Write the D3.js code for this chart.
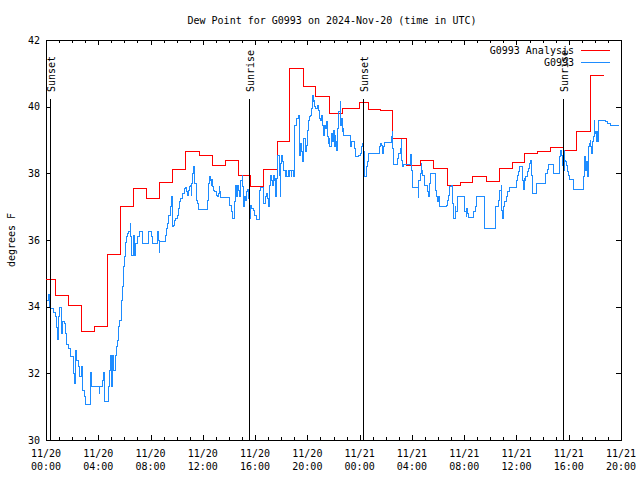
<!DOCTYPE html>
<html><head><meta charset="utf-8">
<script src="https://cdn.jsdelivr.net/npm/d3@7"></script>
<style>
html,body{margin:0;padding:0;background:#fff;}
text{font-family:"DejaVu Sans Mono",monospace;font-size:10px;fill:#000;}
</style></head>
<body>
<script>
// ---------- DATA ----------
const titleText = "Dew Point for G0993 on 2024-Nov-20 (time in UTC)";
const yLabelText = "degrees F";
const yTicks = [30, 32, 34, 36, 38, 40, 42];
const xTickHours = [0, 4, 8, 12, 16, 20, 24, 28, 32, 36, 40, 44];
const xTickDates = ["11/20","11/20","11/20","11/20","11/20","11/20","11/21","11/21","11/21","11/21","11/21","11/21"];
const xTickTimes = ["00:00","04:00","08:00","12:00","16:00","20:00","00:00","04:00","08:00","12:00","16:00","20:00"];
const seriesNames = ["G0993 Analysis", "G0993"];

// sun events (hours after 2024-11-20 00:00 UTC)
const sunLabels = ["Sunset", "Sunrise", "Sunset", "Sunrise"];
const sunHours = [0.31, 15.56, 24.28, 39.59];

// Analysis (hourly step values); start hours of each step, last entry = end
const analysisHours = [0, 0.71, 1.71, 2.70, 3.73, 4.70, 5.70, 6.68, 7.71, 8.72, 9.70, 10.68, 11.73, 12.76, 13.70, 14.72, 15.66, 16.63, 17.70, 18.67, 19.69, 20.66, 21.68, 22.70, 23.98, 24.69, 25.57, 26.53, 27.60, 28.62, 29.64, 30.72, 31.70, 32.62, 33.70, 34.67, 35.66, 36.62, 37.63, 38.62, 39.59, 40.61, 41.70, 42.70];
const analysisValues = [34.83, 34.34, 34.04, 33.26, 33.42, 35.58, 37.02, 37.55, 37.25, 37.73, 38.12, 38.65, 38.54, 38.23, 38.40, 37.95, 37.60, 38.12, 38.97, 41.15, 40.62, 40.32, 39.80, 39.95, 40.13, 39.92, 39.88, 39.05, 38.25, 38.38, 38.15, 37.65, 37.73, 37.91, 37.77, 38.15, 38.33, 38.60, 38.67, 38.78, 38.70, 39.26, 40.95];

// Observations
const obsHours = [0.10,0.18,0.25,0.38,0.54,0.69,0.82,0.86,0.92,0.99,1.07,1.15,1.22,1.30,1.43,1.51,1.58,1.71,1.84,2.09,2.17,2.24,2.35,2.47,2.60,2.68,2.81,2.91,3.04,3.42,3.50,4.06,4.13,4.31,4.38,4.44,4.51,4.77,4.87,4.95,5.03,5.10,5.20,5.28,5.38,5.46,5.56,5.66,5.76,5.84,5.92,5.99,6.07,6.18,6.27,6.35,6.43,6.48,6.53,6.68,6.76,6.86,6.99,7.12,7.37,7.83,8.09,8.13,8.52,8.59,8.67,8.72,9.16,9.24,9.31,9.41,9.49,9.62,9.69,9.74,9.82,9.92,10.05,10.12,10.20,10.33,10.43,10.56,10.69,10.77,10.84,10.89,10.97,11.04,11.10,11.15,11.23,11.30,11.35,11.40,11.48,11.56,11.65,12.34,12.42,12.50,12.57,12.63,12.68,12.76,12.83,12.93,13.06,13.14,13.19,13.26,13.31,13.34,14.06,14.16,14.26,14.46,14.52,14.60,14.67,14.72,14.77,14.85,14.92,15.00,15.02,15.10,15.17,15.28,15.36,15.43,15.51,15.56,15.61,15.66,15.74,15.86,15.99,16.12,16.32,16.38,16.66,16.76,16.86,16.96,17.04,17.09,17.16,17.24,17.32,17.39,17.47,17.52,17.58,17.65,17.70,17.75,17.85,17.91,17.98,18.04,18.11,18.21,18.29,18.37,18.44,18.52,18.60,18.67,18.75,18.82,18.92,18.98,19.05,19.18,19.31,19.38,19.49,19.57,19.64,19.74,19.82,19.90,20.00,20.07,20.15,20.26,20.33,20.41,20.46,20.51,20.58,20.66,20.76,20.84,20.91,20.99,21.10,21.17,21.22,21.30,21.37,21.48,21.56,21.63,21.68,21.73,21.81,21.89,21.99,22.06,22.14,22.19,22.25,22.32,22.37,22.42,22.50,22.55,22.57,22.65,22.70,22.75,22.80,23.32,23.39,23.59,23.67,23.72,23.88,24.03,24.11,24.18,24.24,24.31,24.36,24.41,24.49,24.54,24.62,24.69,25.51,25.61,25.69,25.77,25.84,25.94,26.45,26.50,26.53,26.58,26.91,27.01,27.09,27.16,27.19,27.22,27.27,27.34,27.91,27.98,28.03,28.49,28.54,28.62,28.70,28.75,28.80,28.93,29.00,29.21,29.25,29.33,29.38,29.44,29.82,29.90,29.94,30.02,30.10,30.66,30.74,30.81,30.91,31.04,31.12,31.22,31.30,31.37,31.47,31.99,32.06,32.14,32.19,32.27,32.34,32.70,32.83,32.96,33.52,33.55,34.36,34.62,34.70,34.74,34.82,34.87,34.92,35.00,35.12,35.25,35.33,35.45,35.97,36.07,36.14,36.22,36.48,36.53,36.58,36.66,36.73,36.83,36.91,36.98,37.09,37.14,37.21,37.50,38.19,38.26,38.36,38.44,38.82,38.87,39.28,39.33,39.38,39.46,39.54,39.59,39.64,39.69,39.77,39.84,39.92,40.00,40.04,40.35,40.40,41.12,41.17,41.25,41.30,41.38,41.42,41.48,41.53,41.58,41.63,41.69,41.76,41.84,41.89,41.94,42.01,42.07,42.11,42.17,42.22,42.26,42.85,42.95,43.16,43.41,43.85];
const obsValues = [34.20,34.38,34.00,33.96,33.84,33.70,33.39,33.03,33.30,33.72,33.99,33.60,33.21,33.57,33.51,33.21,32.88,32.75,32.52,32.01,31.71,32.70,32.40,32.22,31.90,32.22,31.50,31.30,31.08,32.02,31.60,31.40,31.60,31.80,32.02,31.60,31.15,31.60,32.10,32.55,31.60,32.55,32.10,32.55,32.80,33.00,33.40,33.60,34.20,34.60,35.20,35.50,35.92,36.10,36.21,36.25,36.50,36.10,35.55,36.15,35.55,35.90,36.10,36.25,35.90,36.25,36.10,35.90,36.25,36.00,35.62,35.97,36.15,36.35,36.50,36.75,37.00,37.30,36.40,36.45,36.60,36.65,36.75,36.95,37.15,37.25,37.40,37.55,37.58,37.45,37.35,37.50,37.60,37.65,37.35,37.70,38.00,38.20,38.00,37.70,37.20,37.10,36.92,37.20,37.70,37.90,37.80,37.65,37.82,37.60,37.50,37.45,37.35,37.30,37.40,37.60,37.45,37.28,37.05,36.85,36.65,37.15,37.65,37.30,37.65,37.50,37.30,37.50,37.80,37.95,37.60,37.00,37.30,37.20,37.45,37.52,37.26,37.50,36.64,37.05,36.95,36.90,36.75,36.62,37.50,37.58,37.10,37.30,37.40,37.25,37.00,37.65,37.95,37.80,37.65,37.95,37.80,37.86,37.30,37.86,38.20,38.55,37.95,37.30,38.30,38.55,38.35,38.10,37.90,38.10,37.90,38.10,37.90,38.10,37.90,38.10,37.90,38.70,39.45,39.65,39.75,38.55,38.90,38.65,38.35,39.05,38.65,38.85,39.30,39.60,39.70,39.75,39.95,40.35,40.15,40.20,40.00,39.95,40.05,39.90,39.65,39.60,39.75,39.45,39.15,39.45,39.35,39.55,39.10,38.90,39.05,38.80,39.20,38.95,39.30,38.80,39.15,38.95,38.70,39.35,39.55,39.85,40.15,39.85,39.45,39.65,39.25,39.35,39.15,38.80,38.95,38.75,38.55,38.50,38.53,38.60,38.65,38.80,38.90,38.65,37.95,37.90,38.05,38.20,38.35,38.60,38.80,38.90,38.85,38.60,38.80,38.93,39.10,39.25,38.75,38.28,38.45,38.60,38.65,38.75,39.02,38.40,38.20,38.28,38.58,38.10,37.58,37.28,37.80,38.00,38.30,38.10,37.95,37.80,37.65,37.45,37.30,37.55,37.70,38.00,37.50,37.30,37.15,37.30,37.00,37.05,37.20,37.35,37.60,37.65,37.10,36.65,37.00,36.85,37.30,36.95,36.85,36.70,36.95,36.80,36.68,36.85,37.00,37.32,36.85,36.35,37.00,37.20,37.40,37.50,37.65,36.90,36.65,37.00,37.15,37.30,37.45,37.58,37.80,37.95,38.05,38.21,37.80,37.52,37.85,37.80,37.90,38.05,38.15,38.30,38.40,37.95,37.40,37.70,37.85,38.00,38.12,38.28,38.20,38.00,38.20,38.50,38.70,38.55,38.25,38.70,38.10,38.40,38.35,38.25,38.05,37.95,37.82,37.70,37.52,37.90,38.52,38.35,38.10,38.35,37.90,38.30,38.80,38.90,39.00,38.80,38.60,38.95,39.10,39.58,39.20,39.25,38.95,39.25,38.95,39.60,39.55,39.50,39.45,39.43,39.43];

// ---------- CHART ----------
const W = 640, H = 480;
const L = 46, R = 621, T = 40, B = 440;
const startMs = Date.UTC(2024, 10, 20, 0, 0);
const toDate = h => new Date(startMs + h * 3600e3);

const svg = d3.select("body").append("svg").attr("width", W).attr("height", H)
  .style("display","block");
svg.append("rect").attr("width", W).attr("height", H).attr("fill", "#fff");

const x = d3.scaleUtc().domain([toDate(0), toDate(44)]).range([L, R]);
const y = d3.scaleLinear().domain([30, 42]).range([B, T]);

const majorDates = xTickHours.map(toDate);
const minorDates = d3.range(0, 45).map(toDate);

function styleAxis(g){ g.select(".domain").remove(); g.selectAll("line").attr("stroke","#000").attr("shape-rendering","crispEdges"); }

svg.append("g").attr("transform",`translate(0,${B})`)
  .call(d3.axisBottom(x).tickValues(minorDates).tickSize(-3).tickFormat("")).call(styleAxis);
svg.append("g").attr("transform",`translate(0,${B})`)
  .call(d3.axisBottom(x).tickValues(majorDates).tickSize(-5).tickFormat("")).call(styleAxis);
svg.append("g").attr("transform",`translate(0,${T})`)
  .call(d3.axisTop(x).tickValues(minorDates).tickSize(-3).tickFormat("")).call(styleAxis);
svg.append("g").attr("transform",`translate(0,${T})`)
  .call(d3.axisTop(x).tickValues(majorDates).tickSize(-5).tickFormat("")).call(styleAxis);
const gl = svg.append("g").attr("transform",`translate(${L},0)`)
  .call(d3.axisLeft(y).tickValues(yTicks).tickSize(-5).tickPadding(6).tickFormat(d3.format("d"))).call(styleAxis);
gl.selectAll("text").attr("font-family",null).attr("font-size",null).attr("fill","#000");
svg.append("g").attr("transform",`translate(${R},0)`)
  .call(d3.axisRight(y).tickValues(yTicks).tickSize(-5).tickFormat("")).call(styleAxis);

// x tick labels (two lines)
const xl = svg.append("g");
xTickHours.forEach((h, i) => {
  const t = xl.append("text").attr("text-anchor","middle");
  t.append("tspan").attr("x", x(toDate(h))).attr("y", B + 17).text(xTickDates[i]);
  t.append("tspan").attr("x", x(toDate(h))).attr("y", B + 30).text(xTickTimes[i]);
});

// border
svg.append("rect").attr("x", L).attr("y", T).attr("width", R - L).attr("height", B - T)
  .attr("fill","none").attr("stroke","#000").attr("shape-rendering","crispEdges");

// clip
svg.append("clipPath").attr("id","clip").append("rect").attr("x", L).attr("y", T).attr("width", R - L).attr("height", B - T);

const line = d3.line().x(d => x(toDate(d[0]))).y(d => y(d[1])).curve(d3.curveStepAfter);

const analysisPts = analysisHours.map((h, i) => [h, analysisValues[Math.min(i, analysisValues.length - 1)]]);
const obsPts = obsHours.map((h, i) => [h, obsValues[i]]);

const dg = svg.append("g").attr("clip-path","url(#clip)");
dg.append("path").datum(analysisPts).attr("d", line).attr("fill","none")
  .attr("stroke","#ff0000").attr("stroke-width",1).attr("shape-rendering","crispEdges");
dg.append("path").datum(obsPts).attr("d", line).attr("fill","none")
  .attr("stroke","#1e8cff").attr("stroke-width",1).attr("shape-rendering","crispEdges");

// sun lines & labels
sunHours.forEach((h, i) => {
  const sx = x(toDate(h));
  svg.append("line").attr("x1", sx).attr("x2", sx).attr("y1", T + 59).attr("y2", B)
    .attr("stroke","#000").attr("shape-rendering","crispEdges");
  svg.append("text").attr("transform",`translate(${sx + 1},${T + 52}) rotate(-90)`)
    .attr("dy","0.35em").attr("text-anchor","start").text(sunLabels[i]);
});

// legend
const colors = ["#ff0000", "#1e8cff"];
seriesNames.forEach((n, i) => {
  const ly = T + 10 + i * 12.5;
  svg.append("text").attr("x", 574).attr("y", ly).attr("dy","0.35em").attr("text-anchor","end").text(n);
  svg.append("line").attr("x1", 581).attr("x2", 610).attr("y1", ly).attr("y2", ly)
    .attr("stroke", colors[i]).attr("shape-rendering","crispEdges");
});

// title & y label
svg.append("text").attr("x", 332).attr("y", 20).attr("dy","0.35em").attr("text-anchor","middle").text(titleText);
svg.append("text").attr("transform","translate(11,240) rotate(-90)").attr("dy","0.35em")
  .attr("text-anchor","middle").text(yLabelText);
</script>
</body></html>
